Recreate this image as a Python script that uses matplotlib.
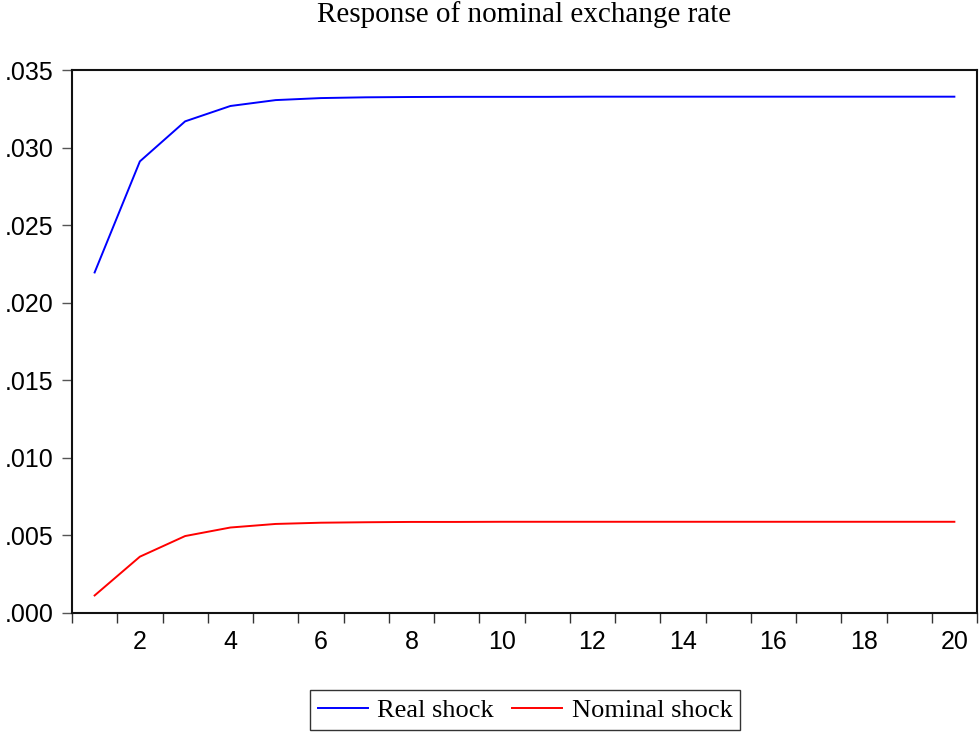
import matplotlib
matplotlib.use("Agg")
import matplotlib.pyplot as plt
from matplotlib.ticker import FuncFormatter

# impulse responses
periods = list(range(1, 21))
realShock = [0.02195, 0.02911, 0.03169, 0.03268, 0.03306, 0.03319, 0.03324, 0.03326, 0.03327, 0.03327,
             0.03327, 0.03328, 0.03328, 0.03328, 0.03328, 0.03328, 0.03328, 0.03328, 0.03328, 0.03328]
nominalShock = [0.00113, 0.00363, 0.00496, 0.00551, 0.00574, 0.00582, 0.00585, 0.00587, 0.00587, 0.00588,
                0.00588, 0.00588, 0.00588, 0.00588, 0.00588, 0.00588, 0.00588, 0.00588, 0.00588, 0.00588]
xLabels = [2, 4, 6, 8, 10, 12, 14, 16, 18, 20]
yTicks = [0.000, 0.005, 0.010, 0.015, 0.020, 0.025, 0.030, 0.035]

plt.rcParams["font.family"] = ["Liberation Sans", "DejaVu Sans"]

fig = plt.figure(figsize=(9.8, 7.33), dpi=100)
ax = fig.add_axes([72/980, 1 - 613/733, (977 - 72)/980, (613 - 70)/733])

ax.plot(periods, realShock, color="#0000ff", lw=1.4, label="Real shock")
ax.plot(periods, nominalShock, color="#ff0000", lw=1.4, label="Nominal shock")

ax.set_xlim(0.5, 20.5)
ax.set_ylim(0, 0.035)

# tick marks at period boundaries, labels at period centres
ax.set_xticks([p - 0.5 for p in periods] + [20.5])
ax.set_xticklabels([])
ax.set_xticks(xLabels, minor=True)
ax.set_xticklabels([str(v) for v in xLabels], minor=True)
ax.tick_params(axis="x", which="major", direction="out", length=7.5, width=1, color="#333333")
ax.tick_params(axis="x", which="minor", length=0, pad=12, labelsize=18)

ax.set_yticks(yTicks)
ax.yaxis.set_major_formatter(FuncFormatter(lambda v, pos: ("%.3f" % v)[1:]))
ax.tick_params(axis="y", direction="out", length=7.5, width=1, color="#555555", pad=6, labelsize=18)

for s in ax.spines.values():
    s.set_linewidth(1.5)
    s.set_color("#111111")

fig.text(0.5 * (72 + 977) / 980, 1 - 15/733, "Response of nominal exchange rate",
         ha="center", va="center", fontsize=21, family="Liberation Serif")

leg = fig.legend(loc="center", bbox_to_anchor=(525/980, 1 - 710/733), ncol=2,
                 prop={"family": "Liberation Serif", "size": 19}, fancybox=False,
                 framealpha=1, edgecolor="#333333", handlelength=1.9, handletextpad=0.35,
                 columnspacing=0.7, borderpad=0.3)
leg.get_frame().set_linewidth(1.0)

fig.savefig("out.png", dpi=100)
